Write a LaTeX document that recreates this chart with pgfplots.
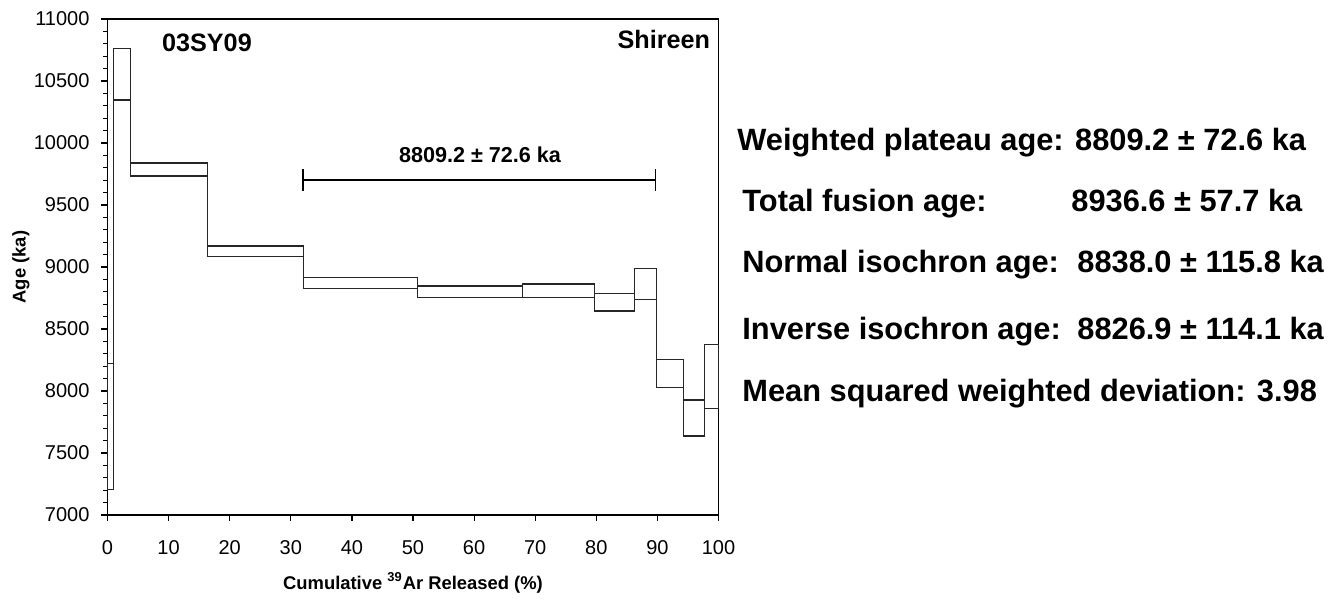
\documentclass[border=0pt]{standalone}
\usepackage{fontspec}
\setmainfont{Liberation Sans}
\usepackage{pgfplots}
\pgfplotsset{compat=1.18}
\begin{document}
\begin{tikzpicture}[x=1pt,y=1pt]
\useasboundingbox (-53.75,-44) rectangle (614.75,257.5);
\begin{axis}[
  at={(0,0)}, anchor=south west,
  scale only axis, width=305.5pt, height=248pt,
  xmin=0, xmax=100, ymin=7000, ymax=11000,
  xtick={0,10,...,100}, ytick={7000,7500,...,11000},
  scaled ticks=false,
  minor y tick num=4,
  tick align=outside, tick pos=left,
  major tick length=3pt, minor tick length=2pt,
  every tick/.style={black, line width=0.6pt},
  axis line style={line width=0.9pt},
  tick label style={font=\fontsize{10}{12}\selectfont},
  yticklabel style={/pgf/number format/1000 sep={}, /pgf/number format/fixed, xshift=-2.5pt},
  xticklabel style={yshift=-6pt},
  /pgf/number format/assume math mode=true,
  xlabel={\textbf{Cumulative \textsuperscript{39}Ar Released (\%)}},
  ylabel={\textbf{Age (ka)}},
  every axis x label/.style={at={(axis description cs:0.5,-0.137)}, anchor=center, font=\fontsize{9.2}{11}\selectfont},
  every axis y label/.style={at={(axis description cs:-0.1416,0.5)}, rotate=90, anchor=center, font=\fontsize{9.2}{11}\selectfont},
  unbounded coords=jump,
  clip=false,
]
% upper envelope (age + 2 sigma)
\addplot[const plot, black!85, line width=0.55pt] coordinates {
 (0,8220) (1.03,10764) (3.72,9839) (16.39,9169) (32.08,8914) (50.77,8847)
 (67.87,8863) (79.73,8785) (86.23,8989) (89.84,8253) (94.21,7927) (97.66,8377) (100,8377)};
% lower envelope (age - 2 sigma)
\addplot[const plot, black!85, line width=0.55pt] coordinates {
 (0,7202) (1.03,10347) (3.72,9734) (16.39,9086) (32.08,8828) (50.77,8752)
 (67.87,8752) (79.73,8645) (86.23,8737) (89.84,8030) (94.21,7637) (97.66,7860) (100,7860)};
% step boundaries
\addplot[black!85, line width=0.55pt] coordinates {
 (0,7202) (0,8220) (0,nan)
 (1.03,7202) (1.03,10764) (1.03,nan)
 (3.72,9734) (3.72,10764) (3.72,nan)
 (16.39,9086) (16.39,9839) (16.39,nan)
 (32.08,8828) (32.08,9169) (32.08,nan)
 (50.77,8752) (50.77,8914) (50.77,nan)
 (67.87,8752) (67.87,8863) (67.87,nan)
 (79.73,8645) (79.73,8863) (79.73,nan)
 (86.23,8645) (86.23,8989) (86.23,nan)
 (89.84,8030) (89.84,8989) (89.84,nan)
 (94.21,7637) (94.21,8253) (94.21,nan)
 (97.66,7637) (97.66,8377) (97.66,nan)
 (100,7860) (100,8377)};
% plateau bar
\addplot[black, line width=0.9pt] coordinates {
 (32.0,9702) (89.7,9702) (89.7,nan)
 (32.0,9615) (32.0,9794) (32.0,nan)
 (89.7,9615) (89.7,9794)};
\end{axis}
\node[anchor=base west, inner sep=0pt, font=\fontsize{12.6}{15}\selectfont\bfseries] at (27.1,231.6) {03SY09};
\node[anchor=base east, inner sep=0pt, font=\fontsize{12.6}{15}\selectfont\bfseries] at (301.5,233) {Shireen};
\node[anchor=base, inner sep=0pt, font=\fontsize{10.8}{13}\selectfont\bfseries] at (186.25,176) {8809.2 ± 72.6 ka};
% summary text
\begin{scope}[every node/.style={anchor=base west, inner sep=0pt, font=\fontsize{15.4}{18}\selectfont\bfseries}]
\node at (314.75,182) {Weighted plateau age: 8809.2 ± 72.6 ka};
\node at (317.25,151.5) {Total fusion age:};
\node at (481.75,151.5) {8936.6 ± 57.7 ka};
\node at (317.25,121) {Normal isochron age:};
\node at (484.75,121) {8838.0 ± 115.8 ka};
\node at (317.25,87.5) {Inverse isochron age:};
\node at (484.75,87.5) {8826.9 ± 114.1 ka};
\node at (317.25,56.5) {Mean squared weighted deviation: 3.98};
\end{scope}
\end{tikzpicture}
\end{document}
